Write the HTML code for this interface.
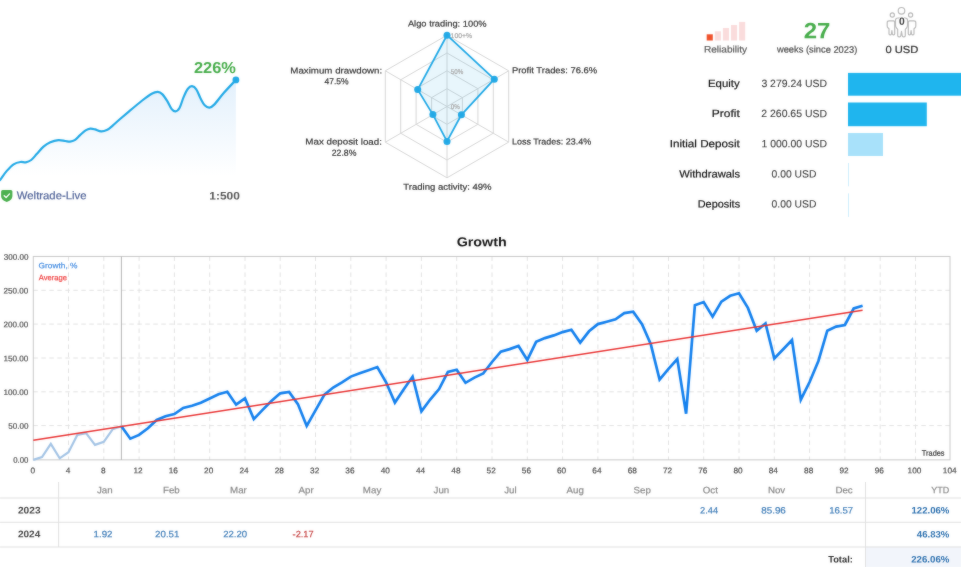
<!DOCTYPE html>
<html lang="en"><head><meta charset="utf-8"><title>Signal statistics</title>
<style>
html,body{margin:0;padding:0;background:#fff;}
body{width:961px;height:567px;overflow:hidden;}
svg{display:block;font-family:"Liberation Sans",sans-serif;}
</style></head><body>
<svg width="961" height="567" viewBox="0 0 961 567">
<defs><filter id="soft" x="-20" y="-20" width="1001" height="607" filterUnits="userSpaceOnUse" color-interpolation-filters="sRGB"><feGaussianBlur stdDeviation="0.8" result="b"/><feComposite in="SourceGraphic" in2="b" operator="arithmetic" k1="0" k2="0.65" k3="0.35" k4="0"/></filter></defs>
<g filter="url(#soft)">
<rect x="-20" y="-20" width="1001" height="607" fill="#fff"/>
<defs><linearGradient id="sg" x1="0" y1="78" x2="0" y2="176" gradientUnits="userSpaceOnUse"><stop offset="0" stop-color="#e2f0fc"/><stop offset="1" stop-color="#ffffff"/></linearGradient></defs>
<path d="M-0.5,180.4 C-0.2,180.1 -0.1,180.2 1.1,178.6 C2.3,177.0 4.7,173.3 6.8,170.9 C8.9,168.5 11.3,165.8 13.6,164.3 C15.9,162.8 18.4,162.3 20.4,162.0 C22.4,161.7 24.0,162.6 25.8,162.3 C27.6,162.0 29.4,161.4 31.2,160.0 C33.0,158.6 34.7,156.3 36.7,154.1 C38.8,151.9 41.2,148.7 43.5,146.7 C45.8,144.7 47.8,143.4 50.3,142.3 C52.8,141.2 55.9,140.4 58.4,140.2 C60.9,140.0 63.3,140.8 65.2,141.0 C67.1,141.2 68.4,141.7 70.0,141.6 C71.6,141.5 73.0,141.3 74.7,140.2 C76.4,139.1 78.3,136.7 80.1,135.1 C81.9,133.5 83.9,131.5 85.6,130.4 C87.3,129.3 88.7,128.8 90.3,128.6 C91.9,128.4 93.3,128.9 95.1,129.4 C96.9,129.9 99.2,131.2 101.2,131.3 C103.2,131.4 105.4,130.6 107.3,129.7 C109.2,128.8 110.7,127.3 112.7,125.6 C114.7,123.9 116.8,121.8 119.5,119.5 C122.2,117.2 125.0,114.8 128.8,111.6 C132.6,108.4 138.4,103.5 142.2,100.5 C146.0,97.5 149.1,95.1 151.7,93.7 C154.3,92.3 156.0,91.8 157.8,91.9 C159.6,92.0 160.9,92.9 162.5,94.4 C164.1,96.0 165.8,98.8 167.3,101.2 C168.8,103.6 170.1,107.0 171.4,108.7 C172.8,110.4 174.1,111.5 175.4,111.4 C176.8,111.3 178.1,110.4 179.5,108.0 C180.9,105.6 182.2,100.3 183.6,97.1 C185.0,93.9 186.3,90.8 187.7,89.0 C189.1,87.2 190.5,86.1 192.0,86.2 C193.5,86.3 195.1,87.5 196.5,89.6 C197.9,91.6 199.2,95.9 200.6,98.5 C202.0,101.1 203.2,103.8 204.7,105.3 C206.2,106.8 207.8,107.8 209.4,107.7 C211.0,107.6 211.8,107.0 214.2,104.6 C216.6,102.1 220.1,97.1 223.7,93.0 C227.3,88.9 233.9,82.1 235.9,79.9 L235.9,185 L-0.5,185 Z" fill="url(#sg)"/>
<path d="M-0.5,180.4 C-0.2,180.1 -0.1,180.2 1.1,178.6 C2.3,177.0 4.7,173.3 6.8,170.9 C8.9,168.5 11.3,165.8 13.6,164.3 C15.9,162.8 18.4,162.3 20.4,162.0 C22.4,161.7 24.0,162.6 25.8,162.3 C27.6,162.0 29.4,161.4 31.2,160.0 C33.0,158.6 34.7,156.3 36.7,154.1 C38.8,151.9 41.2,148.7 43.5,146.7 C45.8,144.7 47.8,143.4 50.3,142.3 C52.8,141.2 55.9,140.4 58.4,140.2 C60.9,140.0 63.3,140.8 65.2,141.0 C67.1,141.2 68.4,141.7 70.0,141.6 C71.6,141.5 73.0,141.3 74.7,140.2 C76.4,139.1 78.3,136.7 80.1,135.1 C81.9,133.5 83.9,131.5 85.6,130.4 C87.3,129.3 88.7,128.8 90.3,128.6 C91.9,128.4 93.3,128.9 95.1,129.4 C96.9,129.9 99.2,131.2 101.2,131.3 C103.2,131.4 105.4,130.6 107.3,129.7 C109.2,128.8 110.7,127.3 112.7,125.6 C114.7,123.9 116.8,121.8 119.5,119.5 C122.2,117.2 125.0,114.8 128.8,111.6 C132.6,108.4 138.4,103.5 142.2,100.5 C146.0,97.5 149.1,95.1 151.7,93.7 C154.3,92.3 156.0,91.8 157.8,91.9 C159.6,92.0 160.9,92.9 162.5,94.4 C164.1,96.0 165.8,98.8 167.3,101.2 C168.8,103.6 170.1,107.0 171.4,108.7 C172.8,110.4 174.1,111.5 175.4,111.4 C176.8,111.3 178.1,110.4 179.5,108.0 C180.9,105.6 182.2,100.3 183.6,97.1 C185.0,93.9 186.3,90.8 187.7,89.0 C189.1,87.2 190.5,86.1 192.0,86.2 C193.5,86.3 195.1,87.5 196.5,89.6 C197.9,91.6 199.2,95.9 200.6,98.5 C202.0,101.1 203.2,103.8 204.7,105.3 C206.2,106.8 207.8,107.8 209.4,107.7 C211.0,107.6 211.8,107.0 214.2,104.6 C216.6,102.1 220.1,97.1 223.7,93.0 C227.3,88.9 233.9,82.1 235.9,79.9" fill="none" stroke="#22a9e6" stroke-width="2.2" stroke-linecap="round" stroke-linejoin="round"/>
<circle cx="235.9" cy="79.9" r="3.4" fill="#22a9e6"/>
<text transform="translate(193.93,73.10) rotate(0.03)" font-size="15.93" fill="#47ad4b" font-weight="bold" textLength="41.95" lengthAdjust="spacingAndGlyphs">226%</text>
<path d="M2.6,190.1 H10.9 Q12.4,190.1 12.4,191.6 V196 C12.4,199 9.8,200.9 6.75,202.1 C3.7,200.9 1.1,199 1.1,196 V191.6 Q1.1,190.1 2.6,190.1 Z" fill="#4bb04f"/>
<path d="M4.2,195.7 L6.1,197.6 L9.5,193.9" fill="none" stroke="#fff" stroke-width="1.4" stroke-linecap="round" stroke-linejoin="round"/>
<text transform="translate(16.84,199.30) rotate(0.03)" font-size="11.19" fill="#52659a" textLength="69.68" lengthAdjust="spacingAndGlyphs" stroke="#52659a" stroke-width="0.2">Weltrade-Live</text>
<text transform="translate(209.28,199.60) rotate(0.03)" font-size="10.92" fill="#555" font-weight="bold" textLength="30.53" lengthAdjust="spacingAndGlyphs">1:500</text>
<polygon points="447.0,88.7 462.4,97.6 462.4,115.4 447.0,124.3 431.6,115.4 431.6,97.6" fill="none" stroke="#d6d6d6" stroke-width="1"/>
<polygon points="447.0,70.8 477.9,88.7 477.9,124.3 447.0,142.2 416.1,124.3 416.1,88.7" fill="none" stroke="#d6d6d6" stroke-width="1"/>
<polygon points="447.0,53.0 493.3,79.8 493.3,133.2 447.0,160.0 400.7,133.2 400.7,79.8" fill="none" stroke="#d6d6d6" stroke-width="1"/>
<polygon points="447.0,35.2 508.7,70.8 508.7,142.1 447.0,177.8 385.3,142.2 385.3,70.8" fill="none" stroke="#d6d6d6" stroke-width="1"/>
<line x1="447.0" y1="106.5" x2="447.0" y2="35.2" stroke="#d6d6d6" stroke-width="1"/>
<line x1="447.0" y1="106.5" x2="508.7" y2="70.8" stroke="#d6d6d6" stroke-width="1"/>
<line x1="447.0" y1="106.5" x2="508.7" y2="142.1" stroke="#d6d6d6" stroke-width="1"/>
<line x1="447.0" y1="106.5" x2="447.0" y2="177.8" stroke="#d6d6d6" stroke-width="1"/>
<line x1="447.0" y1="106.5" x2="385.3" y2="142.2" stroke="#d6d6d6" stroke-width="1"/>
<line x1="447.0" y1="106.5" x2="385.3" y2="70.8" stroke="#d6d6d6" stroke-width="1"/>
<polygon points="447.0,35.2 494.3,79.2 461.4,114.8 447.0,141.4 432.9,114.6 417.7,89.6" fill="#22a9e6" fill-opacity="0.105" stroke="#22a9e6" stroke-width="1.8" stroke-linejoin="round"/>
<circle cx="447.0" cy="35.2" r="3.5" fill="#22a9e6"/>
<circle cx="494.3" cy="79.2" r="3.5" fill="#22a9e6"/>
<circle cx="461.4" cy="114.8" r="3.5" fill="#22a9e6"/>
<circle cx="447.0" cy="141.4" r="3.5" fill="#22a9e6"/>
<circle cx="432.9" cy="114.6" r="3.5" fill="#22a9e6"/>
<circle cx="417.7" cy="89.6" r="3.5" fill="#22a9e6"/>
<text transform="translate(450.59,37.90) rotate(0.03)" font-size="6.92" fill="#a8a8a8" textLength="21.43" lengthAdjust="spacingAndGlyphs" stroke="#a8a8a8" stroke-width="0.2">100+%</text>
<text transform="translate(450.85,73.70) rotate(0.03)" font-size="6.92" fill="#a8a8a8" textLength="12.47" lengthAdjust="spacingAndGlyphs" stroke="#a8a8a8" stroke-width="0.2">50%</text>
<text transform="translate(450.85,109.30) rotate(0.03)" font-size="6.92" fill="#a8a8a8" textLength="9.00" lengthAdjust="spacingAndGlyphs" stroke="#a8a8a8" stroke-width="0.2">0%</text>
<text transform="translate(407.90,26.60) rotate(0.03)" font-size="8.74" fill="#383838" textLength="78.73" lengthAdjust="spacingAndGlyphs" stroke="#383838" stroke-width="0.2">Algo trading: 100%</text>
<text transform="translate(511.95,73.30) rotate(0.03)" font-size="8.74" fill="#383838" textLength="85.28" lengthAdjust="spacingAndGlyphs" stroke="#383838" stroke-width="0.2">Profit Trades: 76.6%</text>
<text transform="translate(511.98,144.50) rotate(0.03)" font-size="8.74" fill="#383838" textLength="79.12" lengthAdjust="spacingAndGlyphs" stroke="#383838" stroke-width="0.2">Loss Trades: 23.4%</text>
<text transform="translate(403.21,189.70) rotate(0.03)" font-size="8.74" fill="#383838" textLength="88.42" lengthAdjust="spacingAndGlyphs" stroke="#383838" stroke-width="0.2">Trading activity: 49%</text>
<text transform="translate(290.32,73.50) rotate(0.03)" font-size="8.74" fill="#383838" textLength="91.88" lengthAdjust="spacingAndGlyphs" stroke="#383838" stroke-width="0.2">Maximum drawdown:</text>
<text transform="translate(324.43,84.20) rotate(0.03)" font-size="8.74" fill="#383838" textLength="24.17" lengthAdjust="spacingAndGlyphs" stroke="#383838" stroke-width="0.2">47.5%</text>
<text transform="translate(305.32,144.60) rotate(0.03)" font-size="8.74" fill="#383838" textLength="76.59" lengthAdjust="spacingAndGlyphs" stroke="#383838" stroke-width="0.2">Max deposit load:</text>
<text transform="translate(331.77,155.70) rotate(0.03)" font-size="8.74" fill="#383838" textLength="24.64" lengthAdjust="spacingAndGlyphs" stroke="#383838" stroke-width="0.2">22.8%</text>
<rect x="706.7" y="34.3" width="6.1" height="6.2" fill="#f0512b"/>
<rect x="714.8" y="31.3" width="6.1" height="9.2" fill="#fadcdc"/>
<rect x="722.9" y="28.0" width="6.1" height="12.5" fill="#fadcdc"/>
<rect x="731" y="25.0" width="6.1" height="15.5" fill="#fadcdc"/>
<rect x="739.1" y="21.9" width="6.1" height="18.6" fill="#fadcdc"/>
<text transform="translate(703.89,52.60) rotate(0.03)" font-size="9.37" fill="#5c5c5c" textLength="43.20" lengthAdjust="spacingAndGlyphs" stroke="#5c5c5c" stroke-width="0.2">Reliability</text>
<text transform="translate(803.66,38.20) rotate(0.03)" font-size="22.11" fill="#47ad4b" font-weight="bold" textLength="26.65" lengthAdjust="spacingAndGlyphs">27</text>
<text transform="translate(776.90,52.60) rotate(0.03)" font-size="9.37" fill="#505050" textLength="80.41" lengthAdjust="spacingAndGlyphs" stroke="#505050" stroke-width="0.2">weeks (since 2023)</text>
<text transform="translate(885.45,53.10) rotate(0.03)" font-size="10.28" fill="#2c2c2c" textLength="32.96" lengthAdjust="spacingAndGlyphs" stroke="#2c2c2c" stroke-width="0.2">0 USD</text>
<g fill="none" stroke="#b8b8b8" stroke-width="1.15" stroke-linejoin="round" stroke-linecap="round"><circle cx="901.5" cy="10.8" r="3.3"/><circle cx="892.3" cy="15" r="2.1"/><circle cx="910.6" cy="15" r="2.1"/><path d="M897.9,18 H905.1 Q907.5,18 907.5,20.3 V25.6 Q907.5,27 906.6,27.9 L905.3,29.4 V35.5 Q905.3,36.9 904,36.9 H903.5 Q902.3,36.9 902.2,35.7 L901.5,31.4 L900.8,35.7 Q900.7,36.9 899.5,36.9 H899 Q897.7,36.9 897.7,35.5 V29.4 L896.4,27.9 Q895.5,27 895.5,25.6 V20.3 Q895.5,18 897.9,18 Z"/><path d="M893.4,20.8 H889.2 Q887.2,20.8 887.2,22.6 V26.1 Q887.2,27.1 887.9,27.8 L889,28.8 V33.7 Q889,34.8 890,34.8 H890.5 Q891.4,34.8 891.5,33.8 L891.9,30.6 L892.3,33.8 Q892.4,34.8 893.3,34.8 H893.8 Q894.7,34.8 894.7,33.8 V22.4 Q894.7,20.8 893.4,20.8 Z"/><path d="M909.6,20.8 H913.8 Q915.8,20.8 915.8,22.6 V26.1 Q915.8,27.1 915.1,27.8 L914,28.8 V33.7 Q914,34.8 913,34.8 H912.5 Q911.6,34.8 911.5,33.8 L911.1,30.6 L910.7,33.8 Q910.6,34.8 909.7,34.8 H909.2 Q908.3,34.8 908.3,33.8 V22.4 Q908.3,20.8 909.6,20.8 Z"/></g>
<ellipse cx="901.8" cy="21.2" rx="3.6" ry="4.6" fill="#fff"/>
<text transform="translate(898.99,24.80) rotate(0.03)" font-size="10.56" fill="#3a3a3a" font-weight="bold" textLength="5.74" lengthAdjust="spacingAndGlyphs">0</text>
<text transform="translate(707.99,86.90) rotate(0.03)" font-size="10.56" fill="#161616" textLength="31.71" lengthAdjust="spacingAndGlyphs" stroke="#161616" stroke-width="0.2">Equity</text>
<text transform="translate(761.38,86.90) rotate(0.03)" font-size="10.56" fill="#3c3c3c" textLength="65.61" lengthAdjust="spacingAndGlyphs" stroke="#3c3c3c" stroke-width="0.1">3 279.24 USD</text>
<text transform="translate(711.84,117.10) rotate(0.03)" font-size="10.56" fill="#161616" textLength="27.97" lengthAdjust="spacingAndGlyphs" stroke="#161616" stroke-width="0.2">Profit</text>
<text transform="translate(761.28,117.10) rotate(0.03)" font-size="10.56" fill="#3c3c3c" textLength="65.71" lengthAdjust="spacingAndGlyphs" stroke="#3c3c3c" stroke-width="0.1">2 260.65 USD</text>
<text transform="translate(669.65,147.20) rotate(0.03)" font-size="10.56" fill="#161616" textLength="70.15" lengthAdjust="spacingAndGlyphs" stroke="#161616" stroke-width="0.2">Initial Deposit</text>
<text transform="translate(761.52,147.20) rotate(0.03)" font-size="10.56" fill="#3c3c3c" textLength="65.47" lengthAdjust="spacingAndGlyphs" stroke="#3c3c3c" stroke-width="0.1">1 000.00 USD</text>
<text transform="translate(679.14,177.50) rotate(0.03)" font-size="10.56" fill="#161616" textLength="60.96" lengthAdjust="spacingAndGlyphs" stroke="#161616" stroke-width="0.2">Withdrawals</text>
<text transform="translate(771.59,177.50) rotate(0.03)" font-size="10.56" fill="#3c3c3c" textLength="44.78" lengthAdjust="spacingAndGlyphs" stroke="#3c3c3c" stroke-width="0.1">0.00 USD</text>
<text transform="translate(697.73,207.60) rotate(0.03)" font-size="10.56" fill="#161616" textLength="42.36" lengthAdjust="spacingAndGlyphs" stroke="#161616" stroke-width="0.2">Deposits</text>
<text transform="translate(771.59,207.60) rotate(0.03)" font-size="10.56" fill="#3c3c3c" textLength="44.78" lengthAdjust="spacingAndGlyphs" stroke="#3c3c3c" stroke-width="0.1">0.00 USD</text>
<rect x="848" y="72.9" width="130" height="22.8" fill="#1fb5ee"/>
<rect x="848" y="102.5" width="78.8" height="23.7" fill="#1fb5ee"/>
<rect x="848" y="133" width="35" height="23" fill="#a8e1fa"/>
<rect x="848" y="163" width="1" height="23.3" fill="#cfeefc"/>
<rect x="848" y="193.4" width="1" height="23.5" fill="#cfeefc"/>
<text transform="translate(456.63,246.20) rotate(0.03)" font-size="12.83" fill="#141414" font-weight="bold" textLength="50.13" lengthAdjust="spacingAndGlyphs">Growth</text>
<path d="M33.3,425.6 H950.0 M33.3,391.8 H950.0 M33.3,358.0 H950.0 M33.3,324.1 H950.0 M33.3,290.3 H950.0 M68.5,256.45 V459.9 M103.8,256.45 V459.9 M139.1,256.45 V459.9 M174.4,256.45 V459.9 M209.7,256.45 V459.9 M245.0,256.45 V459.9 M280.2,256.45 V459.9 M315.5,256.45 V459.9 M350.8,256.45 V459.9 M386.1,256.45 V459.9 M421.4,256.45 V459.9 M456.7,256.45 V459.9 M492.0,256.45 V459.9 M527.3,256.45 V459.9 M562.6,256.45 V459.9 M597.9,256.45 V459.9 M633.2,256.45 V459.9 M668.5,256.45 V459.9 M703.7,256.45 V459.9 M739.0,256.45 V459.9 M774.3,256.45 V459.9 M809.6,256.45 V459.9 M844.9,256.45 V459.9 M880.2,256.45 V459.9 M915.5,256.45 V459.9" fill="none" stroke="#e2e2e2" stroke-width="1" stroke-dasharray="4.5,3.5"/>
<rect x="33.3" y="256.45" width="916.7" height="203.4" fill="none" stroke="#c8c8c8" stroke-width="1"/>
<line x1="121.4" y1="256.45" x2="121.4" y2="459.9" stroke="#b4b4b4" stroke-width="1"/>
<polyline points="33.2,459.9 42.0,457 50.8,443.9 59.7,458.3 68.5,452.2 77.3,434.9 86.1,433.1 95.0,444.9 103.8,441.8 112.6,429.3 121.4,426.2" fill="none" stroke="#a4c4e5" stroke-width="2.2" stroke-linejoin="miter"/>
<polyline points="121.4,426.2 130.3,438.7 139.1,434.9 147.9,428.3 156.7,420 165.5,416.2 174.4,414.1 183.2,407.9 192.0,405.8 200.8,402.7 209.7,398.5 218.5,394.2 227.3,391.7 236.1,404.7 245.0,398.3 253.8,419.1 262.6,409.9 271.4,401 280.2,393.3 289.1,392 297.9,404.1 306.7,426 315.5,410.4 324.4,394.7 333.2,387.5 342.0,382.3 350.8,376.6 359.7,373.3 368.5,370.2 377.3,367.1 386.1,382.3 394.9,402.6 403.8,389.3 412.6,376.6 421.4,411.4 430.2,399.5 439.1,389.1 447.9,372 456.7,369.7 465.5,382.8 474.4,377.6 483.2,373.5 492.0,362 500.8,351.6 509.6,349.1 518.5,346 527.3,360 536.1,341.8 544.9,338.1 553.8,335.4 562.6,332.1 571.4,329.8 580.2,342.6 589.0,331.3 597.9,324.1 606.7,321.8 615.5,319.3 624.3,313.1 633.2,311.6 642.0,324.1 650.8,344.3 659.6,379.6 668.5,368.9 677.3,359 686.1,413.7 694.9,305.2 703.7,302.1 712.6,316.6 721.4,301.6 730.2,295.8 739.0,293.3 747.9,307.9 756.7,330.8 765.5,323.5 774.3,358.5 783.2,349.3 792.0,340 800.8,399.7 809.6,382 818.4,361 827.3,330.7 836.1,326.6 844.9,325 853.7,308.5 862.6,305.8" fill="none" stroke="#1380ee" stroke-width="2.7" stroke-linejoin="miter"/>
<line x1="33.3" y1="440.3" x2="862.6" y2="310.3" stroke="#e93535" stroke-width="1.5"/>
<text transform="translate(13.19,462.65) rotate(0.03)" font-size="8.01" fill="#525252" textLength="15.20" lengthAdjust="spacingAndGlyphs" stroke="#525252" stroke-width="0.2">0.00</text>
<text transform="translate(8.18,428.82) rotate(0.03)" font-size="8.01" fill="#525252" textLength="20.23" lengthAdjust="spacingAndGlyphs" stroke="#525252" stroke-width="0.2">50.00</text>
<text transform="translate(3.39,395.00) rotate(0.03)" font-size="8.01" fill="#525252" textLength="24.99" lengthAdjust="spacingAndGlyphs" stroke="#525252" stroke-width="0.2">100.00</text>
<text transform="translate(3.39,361.18) rotate(0.03)" font-size="8.01" fill="#525252" textLength="24.99" lengthAdjust="spacingAndGlyphs" stroke="#525252" stroke-width="0.2">150.00</text>
<text transform="translate(3.59,327.35) rotate(0.03)" font-size="8.01" fill="#525252" textLength="24.78" lengthAdjust="spacingAndGlyphs" stroke="#525252" stroke-width="0.2">200.00</text>
<text transform="translate(3.59,293.52) rotate(0.03)" font-size="8.01" fill="#525252" textLength="24.78" lengthAdjust="spacingAndGlyphs" stroke="#525252" stroke-width="0.2">250.00</text>
<text transform="translate(3.68,259.70) rotate(0.03)" font-size="8.01" fill="#525252" textLength="24.69" lengthAdjust="spacingAndGlyphs" stroke="#525252" stroke-width="0.2">300.00</text>
<text transform="translate(30.49,473.20) rotate(0.03)" font-size="8.1" fill="#505050" textLength="4.60" lengthAdjust="spacingAndGlyphs" stroke="#505050" stroke-width="0.2">0</text>
<text transform="translate(65.84,473.20) rotate(0.03)" font-size="8.1" fill="#505050" textLength="4.60" lengthAdjust="spacingAndGlyphs" stroke="#505050" stroke-width="0.2">4</text>
<text transform="translate(101.07,473.20) rotate(0.03)" font-size="8.1" fill="#505050" textLength="4.60" lengthAdjust="spacingAndGlyphs" stroke="#505050" stroke-width="0.2">8</text>
<text transform="translate(133.49,473.20) rotate(0.03)" font-size="8.1" fill="#505050" textLength="9.19" lengthAdjust="spacingAndGlyphs" stroke="#505050" stroke-width="0.2">12</text>
<text transform="translate(168.74,473.20) rotate(0.03)" font-size="8.1" fill="#505050" textLength="9.19" lengthAdjust="spacingAndGlyphs" stroke="#505050" stroke-width="0.2">16</text>
<text transform="translate(204.11,473.20) rotate(0.03)" font-size="8.1" fill="#505050" textLength="9.19" lengthAdjust="spacingAndGlyphs" stroke="#505050" stroke-width="0.2">20</text>
<text transform="translate(239.38,473.20) rotate(0.03)" font-size="8.1" fill="#505050" textLength="9.19" lengthAdjust="spacingAndGlyphs" stroke="#505050" stroke-width="0.2">24</text>
<text transform="translate(274.72,473.20) rotate(0.03)" font-size="8.1" fill="#505050" textLength="9.19" lengthAdjust="spacingAndGlyphs" stroke="#505050" stroke-width="0.2">28</text>
<text transform="translate(310.09,473.20) rotate(0.03)" font-size="8.1" fill="#505050" textLength="9.19" lengthAdjust="spacingAndGlyphs" stroke="#505050" stroke-width="0.2">32</text>
<text transform="translate(345.34,473.20) rotate(0.03)" font-size="8.1" fill="#505050" textLength="9.19" lengthAdjust="spacingAndGlyphs" stroke="#505050" stroke-width="0.2">36</text>
<text transform="translate(380.70,473.20) rotate(0.03)" font-size="8.1" fill="#505050" textLength="9.19" lengthAdjust="spacingAndGlyphs" stroke="#505050" stroke-width="0.2">40</text>
<text transform="translate(415.97,473.20) rotate(0.03)" font-size="8.1" fill="#505050" textLength="9.19" lengthAdjust="spacingAndGlyphs" stroke="#505050" stroke-width="0.2">44</text>
<text transform="translate(451.30,473.20) rotate(0.03)" font-size="8.1" fill="#505050" textLength="9.19" lengthAdjust="spacingAndGlyphs" stroke="#505050" stroke-width="0.2">48</text>
<text transform="translate(486.55,473.20) rotate(0.03)" font-size="8.1" fill="#505050" textLength="9.19" lengthAdjust="spacingAndGlyphs" stroke="#505050" stroke-width="0.2">52</text>
<text transform="translate(521.80,473.20) rotate(0.03)" font-size="8.1" fill="#505050" textLength="9.19" lengthAdjust="spacingAndGlyphs" stroke="#505050" stroke-width="0.2">56</text>
<text transform="translate(557.03,473.20) rotate(0.03)" font-size="8.1" fill="#505050" textLength="9.19" lengthAdjust="spacingAndGlyphs" stroke="#505050" stroke-width="0.2">60</text>
<text transform="translate(592.30,473.20) rotate(0.03)" font-size="8.1" fill="#505050" textLength="9.19" lengthAdjust="spacingAndGlyphs" stroke="#505050" stroke-width="0.2">64</text>
<text transform="translate(627.64,473.20) rotate(0.03)" font-size="8.1" fill="#505050" textLength="9.19" lengthAdjust="spacingAndGlyphs" stroke="#505050" stroke-width="0.2">68</text>
<text transform="translate(662.97,473.20) rotate(0.03)" font-size="8.1" fill="#505050" textLength="9.19" lengthAdjust="spacingAndGlyphs" stroke="#505050" stroke-width="0.2">72</text>
<text transform="translate(698.22,473.20) rotate(0.03)" font-size="8.1" fill="#505050" textLength="9.19" lengthAdjust="spacingAndGlyphs" stroke="#505050" stroke-width="0.2">76</text>
<text transform="translate(733.51,473.20) rotate(0.03)" font-size="8.1" fill="#505050" textLength="9.19" lengthAdjust="spacingAndGlyphs" stroke="#505050" stroke-width="0.2">80</text>
<text transform="translate(768.78,473.20) rotate(0.03)" font-size="8.1" fill="#505050" textLength="9.19" lengthAdjust="spacingAndGlyphs" stroke="#505050" stroke-width="0.2">84</text>
<text transform="translate(804.12,473.20) rotate(0.03)" font-size="8.1" fill="#505050" textLength="9.19" lengthAdjust="spacingAndGlyphs" stroke="#505050" stroke-width="0.2">88</text>
<text transform="translate(839.45,473.20) rotate(0.03)" font-size="8.1" fill="#505050" textLength="9.19" lengthAdjust="spacingAndGlyphs" stroke="#505050" stroke-width="0.2">92</text>
<text transform="translate(874.70,473.20) rotate(0.03)" font-size="8.1" fill="#505050" textLength="9.19" lengthAdjust="spacingAndGlyphs" stroke="#505050" stroke-width="0.2">96</text>
<text transform="translate(907.56,473.20) rotate(0.03)" font-size="8.1" fill="#505050" textLength="13.79" lengthAdjust="spacingAndGlyphs" stroke="#505050" stroke-width="0.2">100</text>
<text transform="translate(942.83,473.20) rotate(0.03)" font-size="8.1" fill="#505050" textLength="13.79" lengthAdjust="spacingAndGlyphs" stroke="#505050" stroke-width="0.2">104</text>
<text transform="translate(38.58,268.30) rotate(0.03)" font-size="7.83" fill="#4a90e2" textLength="38.89" lengthAdjust="spacingAndGlyphs" stroke="#4a90e2" stroke-width="0.2">Growth, %</text>
<text transform="translate(38.70,280.30) rotate(0.03)" font-size="7.83" fill="#f04848" textLength="28.26" lengthAdjust="spacingAndGlyphs" stroke="#f04848" stroke-width="0.2">Average</text>
<text transform="translate(921.85,455.70) rotate(0.03)" font-size="7.83" fill="#404040" textLength="22.71" lengthAdjust="spacingAndGlyphs" stroke="#404040" stroke-width="0.2">Trades</text>
<rect x="865.5" y="546.6" width="96" height="21" fill="#f2f5fb"/>
<line x1="0" y1="498" x2="961" y2="498" stroke="#e1e1e1" stroke-width="1"/>
<line x1="0" y1="522.3" x2="961" y2="522.3" stroke="#e1e1e1" stroke-width="1"/>
<line x1="0" y1="547" x2="961" y2="547" stroke="#e1e1e1" stroke-width="1"/>
<line x1="58.6" y1="482" x2="58.6" y2="547" stroke="#e1e1e1" stroke-width="1"/>
<line x1="865.5" y1="482" x2="865.5" y2="567" stroke="#e1e1e1" stroke-width="1"/>
<text transform="translate(96.95,493.20) rotate(0.03)" font-size="9.28" fill="#8a8a8a" textLength="15.71" lengthAdjust="spacingAndGlyphs" stroke="#8a8a8a" stroke-width="0.2">Jan</text>
<text transform="translate(162.95,493.20) rotate(0.03)" font-size="9.28" fill="#8a8a8a" textLength="16.79" lengthAdjust="spacingAndGlyphs" stroke="#8a8a8a" stroke-width="0.2">Feb</text>
<text transform="translate(230.03,493.20) rotate(0.03)" font-size="9.28" fill="#8a8a8a" textLength="16.78" lengthAdjust="spacingAndGlyphs" stroke="#8a8a8a" stroke-width="0.2">Mar</text>
<text transform="translate(298.55,493.20) rotate(0.03)" font-size="9.28" fill="#8a8a8a" textLength="15.16" lengthAdjust="spacingAndGlyphs" stroke="#8a8a8a" stroke-width="0.2">Apr</text>
<text transform="translate(362.86,493.20) rotate(0.03)" font-size="9.28" fill="#8a8a8a" textLength="18.41" lengthAdjust="spacingAndGlyphs" stroke="#8a8a8a" stroke-width="0.2">May</text>
<text transform="translate(433.55,493.20) rotate(0.03)" font-size="9.28" fill="#8a8a8a" textLength="15.71" lengthAdjust="spacingAndGlyphs" stroke="#8a8a8a" stroke-width="0.2">Jun</text>
<text transform="translate(504.13,493.20) rotate(0.03)" font-size="9.28" fill="#8a8a8a" textLength="12.46" lengthAdjust="spacingAndGlyphs" stroke="#8a8a8a" stroke-width="0.2">Jul</text>
<text transform="translate(566.53,493.20) rotate(0.03)" font-size="9.28" fill="#8a8a8a" textLength="17.34" lengthAdjust="spacingAndGlyphs" stroke="#8a8a8a" stroke-width="0.2">Aug</text>
<text transform="translate(633.61,493.20) rotate(0.03)" font-size="9.28" fill="#8a8a8a" textLength="17.34" lengthAdjust="spacingAndGlyphs" stroke="#8a8a8a" stroke-width="0.2">Sep</text>
<text transform="translate(702.78,493.20) rotate(0.03)" font-size="9.28" fill="#8a8a8a" textLength="15.16" lengthAdjust="spacingAndGlyphs" stroke="#8a8a8a" stroke-width="0.2">Oct</text>
<text transform="translate(767.90,493.20) rotate(0.03)" font-size="9.28" fill="#8a8a8a" textLength="17.33" lengthAdjust="spacingAndGlyphs" stroke="#8a8a8a" stroke-width="0.2">Nov</text>
<text transform="translate(835.42,493.20) rotate(0.03)" font-size="9.28" fill="#8a8a8a" textLength="17.33" lengthAdjust="spacingAndGlyphs" stroke="#8a8a8a" stroke-width="0.2">Dec</text>
<text transform="translate(931.27,493.20) rotate(0.03)" font-size="9.28" fill="#8a8a8a" textLength="18.03" lengthAdjust="spacingAndGlyphs" stroke="#8a8a8a" stroke-width="0.2">YTD</text>
<text transform="translate(17.94,513.50) rotate(0.03)" font-size="9.55" fill="#444" font-weight="bold" textLength="22.61" lengthAdjust="spacingAndGlyphs">2023</text>
<text transform="translate(17.95,537.30) rotate(0.03)" font-size="9.55" fill="#444" font-weight="bold" textLength="22.30" lengthAdjust="spacingAndGlyphs">2024</text>
<text transform="translate(700.11,513.50) rotate(0.03)" font-size="9.28" fill="#3f7db8" textLength="18.06" lengthAdjust="spacingAndGlyphs" stroke="#3f7db8" stroke-width="0.2">2.44</text>
<text transform="translate(761.26,513.50) rotate(0.03)" font-size="9.28" fill="#3f7db8" textLength="24.56" lengthAdjust="spacingAndGlyphs" stroke="#3f7db8" stroke-width="0.2">85.96</text>
<text transform="translate(829.18,513.50) rotate(0.03)" font-size="9.28" fill="#3f7db8" textLength="24.02" lengthAdjust="spacingAndGlyphs" stroke="#3f7db8" stroke-width="0.2">16.57</text>
<text transform="translate(93.57,537.30) rotate(0.03)" font-size="9.28" fill="#3f7db8" textLength="18.93" lengthAdjust="spacingAndGlyphs" stroke="#3f7db8" stroke-width="0.2">1.92</text>
<text transform="translate(155.12,537.30) rotate(0.03)" font-size="9.28" fill="#3f7db8" textLength="24.24" lengthAdjust="spacingAndGlyphs" stroke="#3f7db8" stroke-width="0.2">20.51</text>
<text transform="translate(223.22,537.30) rotate(0.03)" font-size="9.28" fill="#3f7db8" textLength="23.94" lengthAdjust="spacingAndGlyphs" stroke="#3f7db8" stroke-width="0.2">22.20</text>
<text transform="translate(292.58,537.30) rotate(0.03)" font-size="9.28" fill="#c54040" textLength="21.07" lengthAdjust="spacingAndGlyphs" stroke="#c54040" stroke-width="0.2">-2.17</text>
<text transform="translate(911.42,513.50) rotate(0.03)" font-size="9.37" fill="#2f72b0" font-weight="bold" textLength="38.00" lengthAdjust="spacingAndGlyphs">122.06%</text>
<text transform="translate(916.86,537.50) rotate(0.03)" font-size="9.37" fill="#2f72b0" font-weight="bold" textLength="32.55" lengthAdjust="spacingAndGlyphs">46.83%</text>
<text transform="translate(911.16,562.50) rotate(0.03)" font-size="9.37" fill="#2f72b0" font-weight="bold" textLength="38.26" lengthAdjust="spacingAndGlyphs">226.06%</text>
<text transform="translate(828.21,562.50) rotate(0.03)" font-size="9.37" fill="#333" font-weight="bold" textLength="24.60" lengthAdjust="spacingAndGlyphs">Total:</text>
</g>
</svg>
</body></html>
